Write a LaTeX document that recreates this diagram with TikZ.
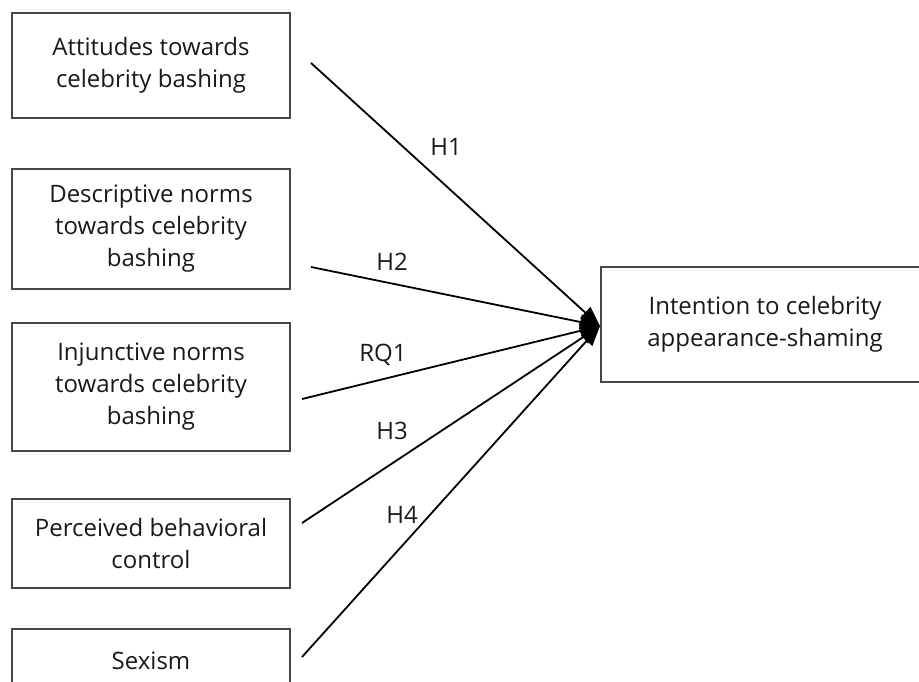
\documentclass[tikz,border=0pt]{standalone}
\usepackage{fontspec}
\setmainfont{Open Sans}
\usetikzlibrary{arrows.meta}
\begin{document}
\begin{tikzpicture}[x=1pt,y=-1pt,
  box/.style={draw=black!72, line width=1.3pt, rectangle, inner sep=0pt, align=center,
    font=\fontsize{24}{32}\selectfont, text=black!90},
  lbl/.style={font=\fontsize{24}{28}\selectfont, text=black!90, inner sep=0pt},
  path/.style={draw=black, line width=1.8pt, -{Triangle[length=20pt,width=15pt]}}]
\useasboundingbox (0,0) rectangle (919,682);
\begin{scope}
\clip (0,0) rectangle (919,682);
\node[box, minimum width=278pt, minimum height=105pt] (att) at (151,65.5) {Attitudes towards\\celebrity bashing};
\node[box, minimum width=278pt, minimum height=120pt] (desc) at (151,229) {Descriptive norms\\towards celebrity\\bashing};
\node[box, minimum width=278pt, minimum height=128pt] (inj) at (151,387) {Injunctive norms\\towards celebrity\\bashing};
\node[box, minimum width=278pt, minimum height=89pt] (pbc) at (151,543.5) {Perceived behavioral\\control};
\node[box, minimum width=278pt, minimum height=64pt] (sex) at (151,661) {Sexism};
\node[box, minimum width=328pt, minimum height=115pt] (tgt) at (765,324.5) {Intention to celebrity\\appearance-shaming};
\end{scope}
\coordinate (s1) at (311,63);
\coordinate (s2) at (311,267);
\coordinate (s3) at (302,399);
\coordinate (s4) at (302,523);
\coordinate (s5) at (302,657);
\coordinate (tip) at (600,326);
\draw[path] (s1) -- (tip);
\draw[path] (s2) -- (tip);
\draw[path] (s3) -- (tip);
\draw[path] (s4) -- (tip);
\draw[path] (s5) -- (tip);
\node[lbl] (l1) at (446,147) {H1};
\node[lbl] (l2) at (392,262) {H2};
\node[lbl] (l3) at (383,355) {RQ1};
\node[lbl] (l4) at (392,431) {H3};
\node[lbl] (l5) at (402,515) {H4};
\end{tikzpicture}
\end{document}
